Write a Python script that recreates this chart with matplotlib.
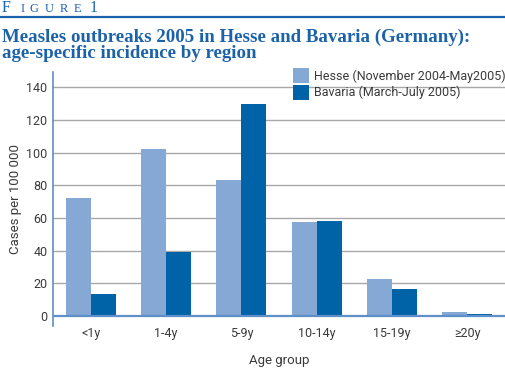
import matplotlib
matplotlib.use('Agg')
import matplotlib.pyplot as plt
import numpy as np

groups = ['<1y', '1-4y', '5-9y', '10-14y', '15-19y', '\u226520y']
hesse = [72.5, 102.5, 83.5, 57.5, 22.5, 2.5]
bavaria = [13.5, 39.5, 130, 58.5, 16.5, 1.2]
series_names = ['Hesse (November 2004-May2005)', 'Bavaria (March-July 2005)']
yticks = [0, 20, 40, 60, 80, 100, 120, 140]

LIGHT = '#86a8d4'
DARK = '#0062a7'
TITLE = '#1c62aa'
AXIS = '#5d8fc8'
TEXT = '#3a3a3a'
SANS = ['Roboto', 'DejaVu Sans']
SERIF = ['Liberation Serif', 'DejaVu Serif']

fig = plt.figure(figsize=(5.05, 3.71), dpi=100)

# header, spaced small caps
hy = 1 - 11.5/371
fig.text(2/505, hy, 'F', family=SERIF, fontsize=11.5, color=TITLE, va='baseline')
for ch, px in zip('IGURE', [21, 29, 45, 60, 74]):
    fig.text(px/505, hy, ch, family=SERIF, fontsize=9, color=TITLE, va='baseline')
fig.text(90/505, hy, '1', family=SERIF, fontsize=11.5, color=TITLE, va='baseline')
fig.add_artist(plt.Line2D([0, 1], [1-16.7/371, 1-16.7/371], color=TITLE, lw=1.6))
fig.text(2/505, 1-42/371, 'Measles outbreaks 2005 in Hesse and Bavaria (Germany):',
         family=SERIF, fontsize=13.6, fontweight='bold', color=TITLE, va='baseline')
fig.text(2/505, 1-58/371, 'age-specific incidence by region',
         family=SERIF, fontsize=13.6, fontweight='bold', color=TITLE, va='baseline')

ax = fig.add_axes([53/505, 1-325.5/371, 1-53/505, 254/371])
x = np.arange(len(groups))
w = 0.332
ax.bar(x - w/2, hesse, w, color=LIGHT, zorder=3, label=series_names[0])
ax.bar(x + w/2, bavaria, w, color=DARK, zorder=3, label=series_names[1])

ax.set_xlim(-0.5, len(groups) - 0.5)
ax.set_ylim(-5.8, 149.8)
ax.set_yticks(yticks)
ax.set_xticks(x)
ax.set_xticklabels(groups)
for s in ['top', 'right', 'bottom']:
    ax.spines[s].set_visible(False)
ax.spines['left'].set_color(AXIS)
ax.spines['left'].set_linewidth(1.2)
ax.axhline(0, color=AXIS, lw=1.6, zorder=4)
for t in yticks[1:]:
    ax.axhline(t, color='#a8a8a8', lw=1, zorder=1)
ax.tick_params(length=0, labelsize=9, labelcolor=TEXT, pad=4)
ax.tick_params(axis='x', pad=1)
for lab in ax.get_xticklabels() + ax.get_yticklabels():
    lab.set_family(SANS)
ax.set_ylabel('Cases per 100 000', family=SANS, fontsize=9.5, color=TEXT, labelpad=3)
ax.set_xlabel('Age group', family=SANS, fontsize=9.5, color=TEXT, labelpad=10)

ax.legend(loc='upper left', bbox_to_anchor=(293/505, 1-68/371), bbox_transform=fig.transFigure,
          frameon=False, prop={'family': SANS, 'size': 9}, labelcolor=TEXT,
          handlelength=1.3, handleheight=1.5, handletextpad=0.35, labelspacing=0.1,
          borderaxespad=0, borderpad=0)

plt.savefig('out.png', dpi=100)
